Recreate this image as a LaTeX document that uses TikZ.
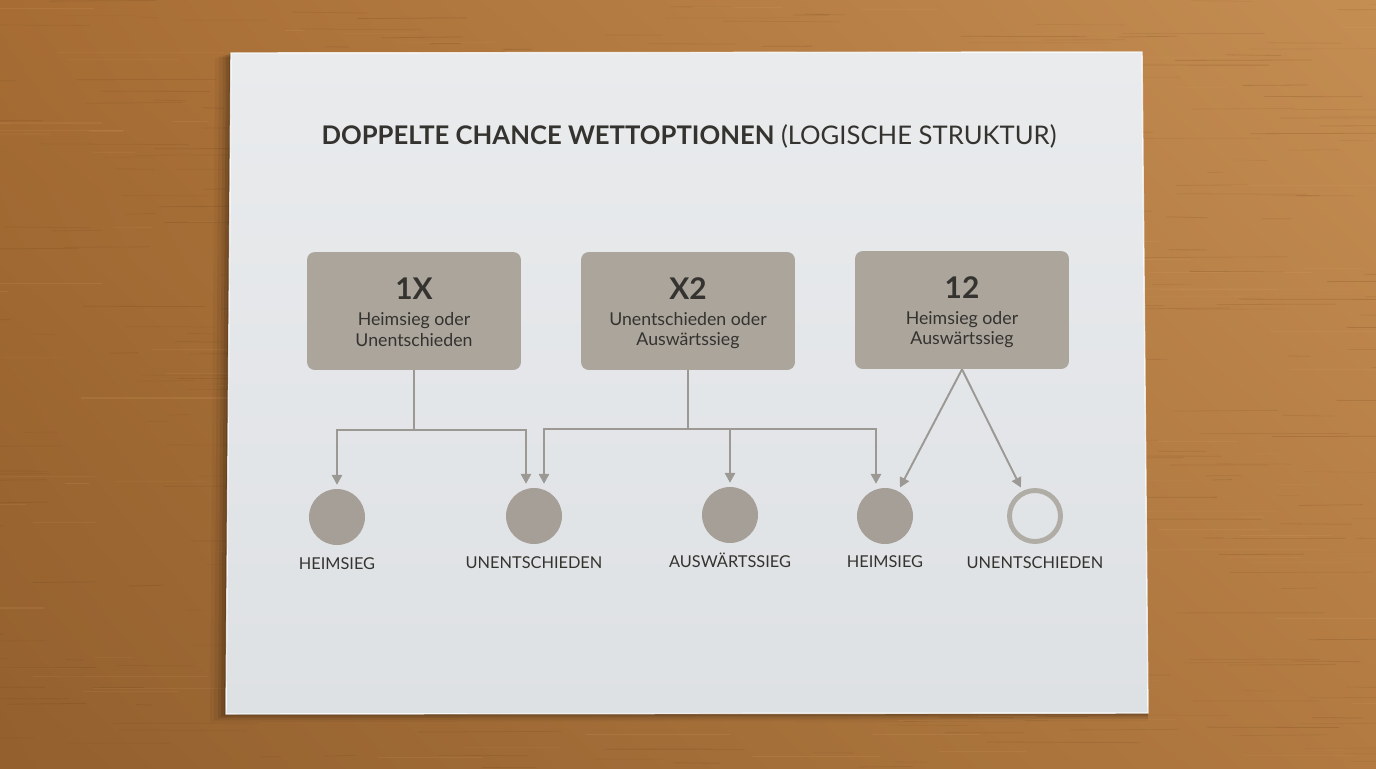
\documentclass[tikz,border=0pt]{standalone}
\usepackage{fontspec}
\setmainfont{Lato}
\usetikzlibrary{arrows.meta,calc,shadings}
\definecolor{woodUL}{HTML}{A66C34}
\definecolor{woodUR}{HTML}{C48D52}
\definecolor{woodLL}{HTML}{93602E}
\definecolor{woodLR}{HTML}{B27A41}
\definecolor{grain}{HTML}{6E4118}
\definecolor{grainlight}{HTML}{D9A66A}
\definecolor{papertop}{HTML}{E9EBED}
\definecolor{paperbot}{HTML}{DEE1E4}
\definecolor{boxfill}{HTML}{ABA59C}
\definecolor{dotfill}{HTML}{A59F97}
\definecolor{ringcol}{HTML}{B0ACA6}
\definecolor{linecol}{HTML}{9C9995}
\definecolor{ink}{HTML}{34332F}
\tikzset{
  optbox/.style={draw=none, fill=boxfill, rounded corners=4.5pt, minimum width=4.28cm, minimum height=2.36cm, inner sep=0pt},
  bigtxt/.style={anchor=base, text=ink, font=\fontsize{17}{20}\selectfont\bfseries, inner sep=0pt},
  subtxt/.style={anchor=base, text=ink, font=\fontsize{10.1}{12}\selectfont, inner sep=0pt},
  dot/.style={circle, fill=dotfill, minimum size=1.12cm, inner sep=0pt},
  ring/.style={circle, draw=ringcol, line width=2.8pt, minimum size=1.02cm, inner sep=0pt},
  lbl/.style={anchor=base, text=ink, font=\fontsize{9.3}{11}\selectfont, inner sep=0pt},
  conn/.style={draw=linecol, line width=1.1pt},
  arr/.style={conn, -{Triangle[length=5.6pt,width=5.8pt]}, shorten >=2.2pt},
}
\begin{document}
\begin{tikzpicture}[x=0.02cm,y=-0.02cm]
\useasboundingbox (0,0) rectangle (1376,768);
% wood
\shade[upper left=woodUL, upper right=woodUR, lower left=woodLL, lower right=woodLR] (0,0) rectangle (1376,768);
\pgfmathsetseed{11}
\foreach \i in {1,...,420}{
  \pgfmathsetmacro\yy{rnd*768}
  \pgfmathsetmacro\xx{rnd*1476-100}
  \pgfmathsetmacro\ll{15+rnd*140}
  \pgfmathsetmacro\op{0.06+rnd*0.16}
  \pgfmathsetmacro\dy{rnd*2-1}
  \draw[grain, line width=0.45pt, opacity=\op] (\xx,\yy) -- ++(\ll,\dy);
}
\foreach \i in {1,...,160}{
  \pgfmathsetmacro\yy{rnd*768}
  \pgfmathsetmacro\xx{rnd*1476-100}
  \pgfmathsetmacro\ll{20+rnd*160}
  \pgfmathsetmacro\op{0.05+rnd*0.12}
  \draw[grainlight, line width=0.6pt, opacity=\op] (\xx,\yy) -- ++(\ll,0);
}
% shadow of the sheet
\foreach \d/\o in {16/0.04,12/0.06,8/0.08,5/0.10,2/0.12}{
  \fill[black, opacity=\o] (231-\d,53+\d*0.3) -- (1142,52+\d*0.3) -- (1148,713+\d*0.5) -- (226-\d,714+\d*0.5) -- cycle;
}
% sheet
\shade[top color=papertop, bottom color=paperbot] (231,53) -- (1142,52) -- (1148,713) -- (226,714) -- cycle;
\draw[white, line width=0.8pt, opacity=0.8] (231,53) -- (1142,52) -- (1148,713) -- (226,714) -- cycle;

% title
\node[anchor=base, text=ink, inner sep=0pt] (title) at (689,144) {\fontsize{14.6}{17}\selectfont\textbf{DOPPELTE CHANCE WETTOPTIONEN} (LOGISCHE STRUKTUR)};

% option boxes
\node[optbox] (b1) at (414,311) {};
\node[optbox] (b2) at (688,311) {};
\node[optbox] (b3) at (962,310) {};
\node[bigtxt] (b1t) at (414,299) {1X};
\node[subtxt] (b1a) at (414,325) {Heimsieg oder};
\node[subtxt] (b1b) at (414,346) {Unentschieden};
\node[bigtxt] (b2t) at (688,299) {X2};
\node[subtxt] (b2a) at (688,325) {Unentschieden oder};
\node[subtxt] (b2b) at (688,345) {Auswärtssieg};
\node[bigtxt] (b3t) at (962,298) {12};
\node[subtxt] (b3a) at (962,324) {Heimsieg oder};
\node[subtxt] (b3b) at (962,344) {Auswärtssieg};

% outcomes
\node[dot] (c1) at (337,517) {};
\node[dot] (c2) at (534,516) {};
\node[dot] (c3) at (730,515) {};
\node[dot] (c4) at (885,516) {};
\node[ring] (c5) at (1035,516) {};
\node[lbl] (l1) at (337,569) {HEIMSIEG};
\node[lbl] (l2) at (534,568) {UNENTSCHIEDEN};
\node[lbl] (l3) at (730,567) {AUSWÄRTSSIEG};
\node[lbl] (l4) at (885,567) {HEIMSIEG};
\node[lbl] (l5) at (1035,568) {UNENTSCHIEDEN};

% connectors
\coordinate (j1) at ($(b1.south)+(0,60)$);
\coordinate (j2) at ($(b2.south)+(0,59)$);
\draw[conn] (b1.south) -- (j1);
\draw[arr] (j1) -| (c1.north);
\draw[arr] (j1) -| ($(c2.north)+(-8,0)$);
\draw[conn] (b2.south) -- (j2);
\draw[arr] (j2) -| ($(c2.north)+(10,0)$);
\draw[arr] (j2) -| (c3.north);
\draw[arr] (j2) -| ($(c4.north)+(-9,0)$);
\draw[arr] (b3.south) -- (c4);
\draw[arr] (b3.south) -- (c5);
\end{tikzpicture}
\end{document}
